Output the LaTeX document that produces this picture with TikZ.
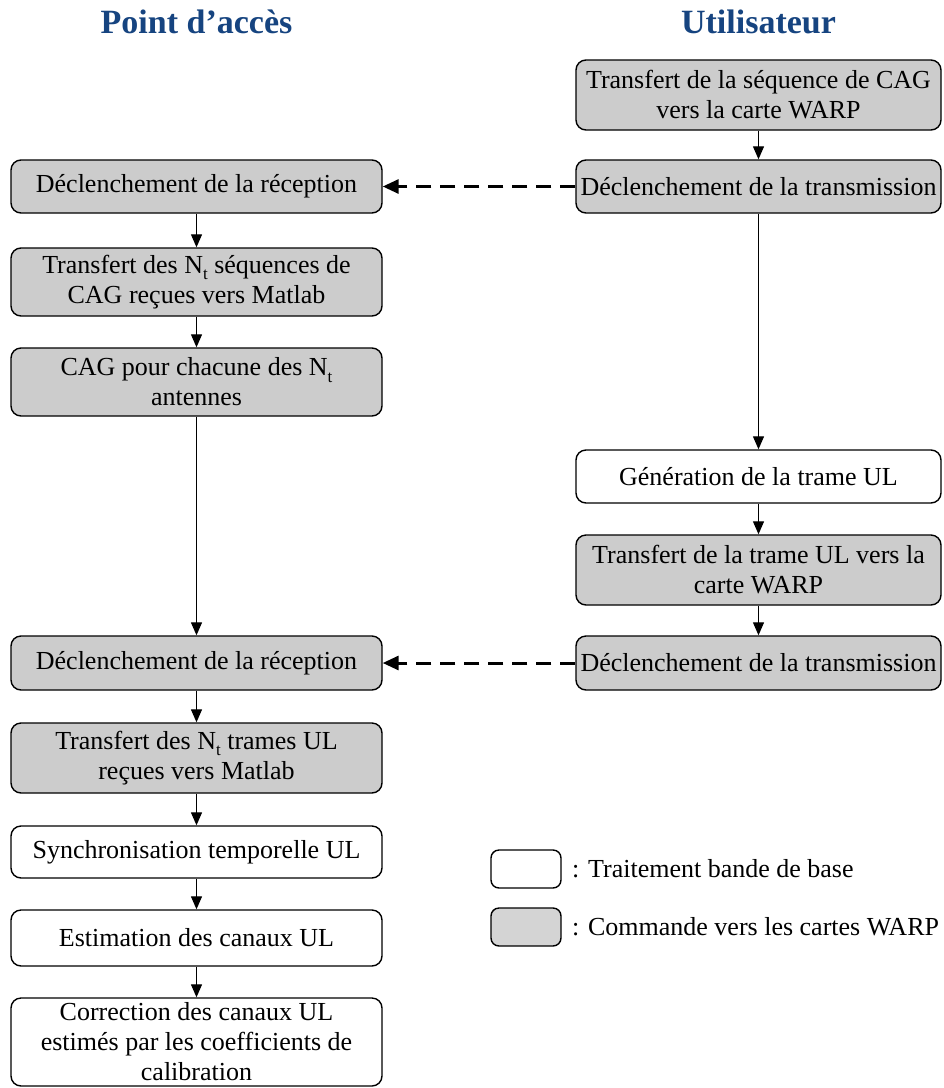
\documentclass[tikz,border=0pt]{standalone}
\usepackage{fontspec}
\setmainfont{Liberation Serif}
\usetikzlibrary{arrows.meta}
\definecolor{titleblue}{RGB}{22,68,128}
\definecolor{boxgray}{RGB}{204,204,204}
\newcommand{\Nt}{N\raisebox{-0.55ex}{\fontsize{17}{17}\selectfont t}}
\tikzset{
  base/.style={draw=black, line width=1.4pt, rounded corners=10pt, align=center, inner sep=0pt,
    font=\fontsize{26}{30}\selectfont},
  graybox/.style={base, fill=boxgray},
  whitebox/.style={base, fill=white},
  lw/.style={minimum width=371pt},
  rw/.style={minimum width=365pt},
  flow/.style={line width=1.2pt, -{Triangle[length=13pt,width=11pt]}},
  trig/.style={line width=3pt, dash pattern=on 15pt off 9pt, -{Triangle[length=16pt,width=14pt]}},
  titletext/.style={text=titleblue, font=\fontsize{34}{40}\selectfont\bfseries},
  legtext/.style={anchor=west, font=\fontsize{26}{30}\selectfont, inner sep=0pt}
}
\begin{document}
\begin{tikzpicture}[x=1pt,y=-1pt]
\useasboundingbox (0,0) rectangle (944,1088);
\node[titletext] (tA) at (196.5,22) {Point d’accès};
\node[titletext] (tU) at (758.5,22) {Utilisateur};
% right column
\node[graybox,rw,minimum height=70pt] (r1) at (758.5,95) {Transfert de la séquence de CAG\\vers la carte WARP};
\node[graybox,rw,minimum height=53pt] (r2) at (758.5,186.5) {Déclenchement de la transmission};
\node[whitebox,rw,minimum height=53pt] (r3) at (758.5,476.5) {Génération de la trame UL};
\node[graybox,rw,minimum height=70pt] (r4) at (758.5,570) {Transfert de la trame UL vers la\\carte WARP};
\node[graybox,rw,minimum height=54pt] (r5) at (758.5,663) {Déclenchement de la transmission};
% left column
\node[graybox,lw,minimum height=53pt] (l1) at (196.5,186.5) {Déclenchement de la réception};
\node[graybox,lw,minimum height=68pt] (l2) at (196.5,282) {Transfert des \Nt{} séquences de\\CAG reçues vers Matlab};
\node[graybox,lw,minimum height=68pt] (l3) at (196.5,382) {CAG pour chacune des \Nt\\antennes};
\node[graybox,lw,minimum height=54pt] (l4) at (196.5,663) {Déclenchement de la réception};
\node[graybox,lw,minimum height=70pt] (l5) at (196.5,758) {Transfert des \Nt{} trames UL\\reçues vers Matlab};
\node[whitebox,lw,minimum height=52pt] (l6) at (196.5,852) {Synchronisation temporelle UL};
\node[whitebox,lw,minimum height=56pt] (l7) at (196.5,938) {Estimation des canaux UL};
\node[whitebox,lw,minimum height=88pt] (l8) at (196.5,1042) {Correction des canaux UL\\estimés par les coefficients de\\calibration};
% arrows
\draw[flow] (r1) -- (r2);
\draw[flow] (r2) -- (r3);
\draw[flow] (r3) -- (r4);
\draw[flow] (r4) -- (r5);
\draw[flow] (l1) -- (l2);
\draw[flow] (l2) -- (l3);
\draw[flow] (l3) -- (l4);
\draw[flow] (l4) -- (l5);
\draw[flow] (l5) -- (l6);
\draw[flow] (l6) -- (l7);
\draw[flow] (l7) -- (l8);
\draw[trig] (r2) -- (l1);
\draw[trig] (r5) -- (l4);
% legend
\node[whitebox,minimum width=70pt,minimum height=38pt,rounded corners=8pt] (k1) at (526,869) {};
\node[graybox,minimum width=70pt,minimum height=38pt,rounded corners=8pt,fill=boxgray!85!white] (k2) at (526,927) {};
\node[legtext] (k1t) at (572,869) {: Traitement bande de base};
\node[legtext] (k2t) at (572,927) {: Commande vers les cartes WARP};
\end{tikzpicture}
\end{document}
